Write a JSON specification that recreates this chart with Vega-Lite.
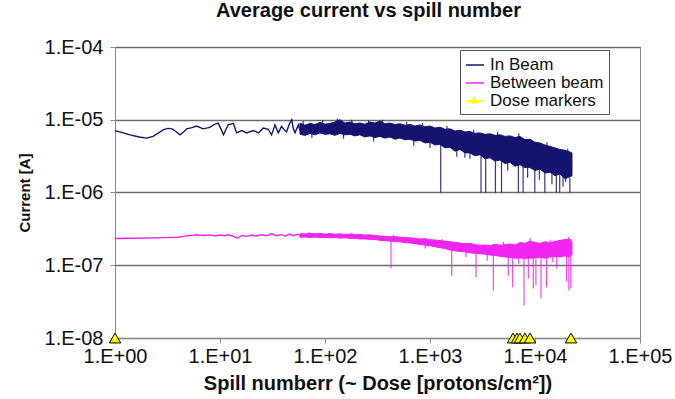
{
  "$schema": "https://vega.github.io/schema/vega-lite/v6.json",
  "width": 525,
  "height": 291,
  "autosize": "none",
  "padding": {"left": 115, "top": 47, "right": 35, "bottom": 61},
  "background": "white",
  "title": {"text": "Average current vs spill number", "font": "Liberation Sans", "fontSize": 20, "fontWeight": "bold", "color": "#111111", "offset": 16, "dx": -9},
  "config": {
    "view": {"stroke": "#8a8a8a", "strokeWidth": 1},
    "axis": {"labelFont": "Liberation Sans", "titleFont": "Liberation Sans", "labelColor": "#111111", "titleColor": "#111111", "tickColor": "#8a8a8a", "domainColor": "#8a8a8a", "tickSize": 5, "labelFontSize": 20}
  },
  "datasets": {
    "trace": [
      {"s": "In Beam", "x": 1, "y": 7.1e-6}, {"s": "In Beam", "x": 1.2, "y": 6.6e-6}, {"s": "In Beam", "x": 1.39, "y": 6.2e-6}, {"s": "In Beam", "x": 1.7, "y": 5.8e-6}, {"s": "In Beam", "x": 2.0, "y": 5.6e-6}, {"s": "In Beam", "x": 2.3, "y": 5.9e-6}, {"s": "In Beam", "x": 2.6, "y": 6.6e-6}, {"s": "In Beam", "x": 2.9, "y": 7.3e-6}, {"s": "In Beam", "x": 3.2, "y": 7.6e-6}, {"s": "In Beam", "x": 3.5, "y": 7.5e-6}, {"s": "In Beam", "x": 3.8, "y": 6.9e-6}, {"s": "In Beam", "x": 4.16, "y": 6.2e-6}, {"s": "In Beam", "x": 4.5, "y": 6.8e-6}, {"s": "In Beam", "x": 4.82, "y": 7.5e-6}, {"s": "In Beam", "x": 5.4, "y": 7.8e-6}, {"s": "In Beam", "x": 6.0, "y": 8.2e-6}, {"s": "In Beam", "x": 6.9, "y": 7.5e-6}, {"s": "In Beam", "x": 8.0, "y": 7.85e-6}, {"s": "In Beam", "x": 8.8, "y": 8.6e-6}, {"s": "In Beam", "x": 9.6, "y": 9.0e-6}, {"s": "In Beam", "x": 10.2, "y": 7.5e-6}, {"s": "In Beam", "x": 10.8, "y": 6.2e-6}, {"s": "In Beam", "x": 11.4, "y": 7.4e-6}, {"s": "In Beam", "x": 12.0, "y": 8.5e-6}, {"s": "In Beam", "x": 13.4, "y": 8.9e-6}, {"s": "In Beam", "x": 14.4, "y": 6.6e-6}, {"s": "In Beam", "x": 16.1, "y": 7.1e-6}, {"s": "In Beam", "x": 17.9, "y": 6.6e-6}, {"s": "In Beam", "x": 20.8, "y": 7.1e-6}, {"s": "In Beam", "x": 23.2, "y": 6.6e-6}, {"s": "In Beam", "x": 25.9, "y": 7.7e-6}, {"s": "In Beam", "x": 28.8, "y": 7.4e-6}, {"s": "In Beam", "x": 31, "y": 6.2e-6}, {"s": "In Beam", "x": 33.4, "y": 8.5e-6}, {"s": "In Beam", "x": 35.9, "y": 6.6e-6}, {"s": "In Beam", "x": 38.6, "y": 8.1e-6}, {"s": "In Beam", "x": 41, "y": 7.2e-6}, {"s": "In Beam", "x": 43.1, "y": 6.8e-6}, {"s": "In Beam", "x": 45.5, "y": 8.6e-6}, {"s": "In Beam", "x": 48.2, "y": 1.0e-5}, {"s": "In Beam", "x": 50, "y": 7.5e-6}, {"s": "In Beam", "x": 51.8, "y": 6.6e-6}, {"s": "In Beam", "x": 55.7, "y": 8.5e-6}, {"s": "In Beam", "x": 58, "y": 7.0e-6},
      {"s": "Between beam", "x": 1, "y": 2.33e-7}, {"s": "Between beam", "x": 1.5, "y": 2.35e-7}, {"s": "Between beam", "x": 2, "y": 2.37e-7}, {"s": "Between beam", "x": 3, "y": 2.4e-7}, {"s": "Between beam", "x": 4, "y": 2.43e-7}, {"s": "Between beam", "x": 5, "y": 2.55e-7}, {"s": "Between beam", "x": 6, "y": 2.62e-7}, {"s": "Between beam", "x": 7, "y": 2.57e-7}, {"s": "Between beam", "x": 8, "y": 2.61e-7}, {"s": "Between beam", "x": 9, "y": 2.52e-7}, {"s": "Between beam", "x": 10, "y": 2.6e-7}, {"s": "Between beam", "x": 11, "y": 2.55e-7}, {"s": "Between beam", "x": 12, "y": 2.62e-7}, {"s": "Between beam", "x": 13.5, "y": 2.5e-7}, {"s": "Between beam", "x": 14.6, "y": 2.35e-7}, {"s": "Between beam", "x": 16, "y": 2.55e-7}, {"s": "Between beam", "x": 18, "y": 2.5e-7}, {"s": "Between beam", "x": 20, "y": 2.6e-7}, {"s": "Between beam", "x": 22, "y": 2.52e-7}, {"s": "Between beam", "x": 25, "y": 2.63e-7}, {"s": "Between beam", "x": 28, "y": 2.55e-7}, {"s": "Between beam", "x": 31, "y": 2.72e-7}, {"s": "Between beam", "x": 34, "y": 2.55e-7}, {"s": "Between beam", "x": 38, "y": 2.63e-7}, {"s": "Between beam", "x": 42, "y": 2.52e-7}, {"s": "Between beam", "x": 46, "y": 2.68e-7}, {"s": "Between beam", "x": 50, "y": 2.55e-7}, {"s": "Between beam", "x": 55, "y": 2.66e-7}, {"s": "Between beam", "x": 60, "y": 2.55e-7}
    ],
    "band": [
      {"s": "In Beam", "x": 57.8, "lo": 6.3e-6, "hi": 9.0e-6}, {"s": "In Beam", "x": 64.5, "lo": 6.1e-6, "hi": 8.4e-6}, {"s": "In Beam", "x": 71.9, "lo": 6.5e-6, "hi": 8.9e-6}, {"s": "In Beam", "x": 80.3, "lo": 6.2e-6, "hi": 8.6e-6}, {"s": "In Beam", "x": 89.6, "lo": 6.6e-6, "hi": 9.2e-6}, {"s": "In Beam", "x": 100, "lo": 6.3e-6, "hi": 8.7e-6}, {"s": "In Beam", "x": 111.6, "lo": 6.4e-6, "hi": 8.9e-6}, {"s": "In Beam", "x": 124.5, "lo": 6.1e-6, "hi": 9.3e-6}, {"s": "In Beam", "x": 138.9, "lo": 6.5e-6, "hi": 1.0e-5}, {"s": "In Beam", "x": 155, "lo": 6.2e-6, "hi": 9.0e-6}, {"s": "In Beam", "x": 173, "lo": 6.3e-6, "hi": 9.3e-6}, {"s": "In Beam", "x": 193, "lo": 6.0e-6, "hi": 8.8e-6}, {"s": "In Beam", "x": 215, "lo": 6.2e-6, "hi": 9.0e-6}, {"s": "In Beam", "x": 240, "lo": 5.8e-6, "hi": 8.7e-6}, {"s": "In Beam", "x": 268, "lo": 6.0e-6, "hi": 9.3e-6}, {"s": "In Beam", "x": 299, "lo": 5.7e-6, "hi": 9.0e-6}, {"s": "In Beam", "x": 334, "lo": 5.9e-6, "hi": 9.6e-6}, {"s": "In Beam", "x": 373, "lo": 5.6e-6, "hi": 8.8e-6}, {"s": "In Beam", "x": 416, "lo": 5.8e-6, "hi": 9.0e-6}, {"s": "In Beam", "x": 464, "lo": 5.4e-6, "hi": 8.6e-6}, {"s": "In Beam", "x": 518, "lo": 5.6e-6, "hi": 8.8e-6}, {"s": "In Beam", "x": 578, "lo": 5.3e-6, "hi": 8.4e-6}, {"s": "In Beam", "x": 645, "lo": 5.4e-6, "hi": 8.6e-6}, {"s": "In Beam", "x": 720, "lo": 5.1e-6, "hi": 8.2e-6}, {"s": "In Beam", "x": 803, "lo": 5.2e-6, "hi": 8.5e-6}, {"s": "In Beam", "x": 896, "lo": 4.8e-6, "hi": 8.0e-6}, {"s": "In Beam", "x": 1000, "lo": 4.9e-6, "hi": 8.2e-6}, {"s": "In Beam", "x": 1116, "lo": 4.5e-6, "hi": 7.7e-6}, {"s": "In Beam", "x": 1245, "lo": 4.6e-6, "hi": 7.9e-6}, {"s": "In Beam", "x": 1389, "lo": 4.1e-6, "hi": 7.4e-6}, {"s": "In Beam", "x": 1550, "lo": 4.2e-6, "hi": 7.5e-6}, {"s": "In Beam", "x": 1730, "lo": 3.7e-6, "hi": 7.0e-6}, {"s": "In Beam", "x": 1931, "lo": 3.9e-6, "hi": 7.2e-6}, {"s": "In Beam", "x": 2154, "lo": 3.5e-6, "hi": 6.8e-6}, {"s": "In Beam", "x": 2404, "lo": 3.5e-6, "hi": 6.9e-6}, {"s": "In Beam", "x": 2683, "lo": 3.2e-6, "hi": 6.5e-6}, {"s": "In Beam", "x": 2994, "lo": 3.3e-6, "hi": 6.6e-6}, {"s": "In Beam", "x": 3341, "lo": 2.9e-6, "hi": 6.3e-6}, {"s": "In Beam", "x": 3728, "lo": 3.0e-6, "hi": 6.4e-6}, {"s": "In Beam", "x": 4160, "lo": 2.7e-6, "hi": 6.1e-6}, {"s": "In Beam", "x": 4642, "lo": 2.8e-6, "hi": 6.2e-6}, {"s": "In Beam", "x": 5180, "lo": 2.5e-6, "hi": 5.9e-6}, {"s": "In Beam", "x": 5780, "lo": 2.6e-6, "hi": 6.0e-6}, {"s": "In Beam", "x": 6450, "lo": 2.3e-6, "hi": 5.7e-6}, {"s": "In Beam", "x": 7197, "lo": 2.4e-6, "hi": 5.9e-6}, {"s": "In Beam", "x": 8031, "lo": 2.2e-6, "hi": 5.3e-6}, {"s": "In Beam", "x": 8962, "lo": 2.2e-6, "hi": 5.4e-6}, {"s": "In Beam", "x": 10000, "lo": 2.0e-6, "hi": 4.9e-6}, {"s": "In Beam", "x": 11160, "lo": 2.1e-6, "hi": 4.8e-6}, {"s": "In Beam", "x": 12450, "lo": 1.85e-6, "hi": 4.5e-6}, {"s": "In Beam", "x": 13890, "lo": 1.9e-6, "hi": 4.3e-6}, {"s": "In Beam", "x": 15500, "lo": 1.7e-6, "hi": 4.1e-6}, {"s": "In Beam", "x": 17300, "lo": 1.8e-6, "hi": 3.9e-6}, {"s": "In Beam", "x": 19310, "lo": 1.55e-6, "hi": 3.8e-6}, {"s": "In Beam", "x": 21540, "lo": 1.65e-6, "hi": 3.6e-6}, {"s": "In Beam", "x": 22500, "lo": 1.7e-6, "hi": 3.5e-6},
      {"s": "Between beam", "x": 57.8, "lo": 2.42e-7, "hi": 2.72e-7}, {"s": "Between beam", "x": 64.5, "lo": 2.45e-7, "hi": 2.68e-7}, {"s": "Between beam", "x": 71.9, "lo": 2.40e-7, "hi": 2.75e-7}, {"s": "Between beam", "x": 80.3, "lo": 2.44e-7, "hi": 2.70e-7}, {"s": "Between beam", "x": 89.6, "lo": 2.40e-7, "hi": 2.74e-7}, {"s": "Between beam", "x": 100, "lo": 2.42e-7, "hi": 2.68e-7}, {"s": "Between beam", "x": 111.6, "lo": 2.38e-7, "hi": 2.72e-7}, {"s": "Between beam", "x": 124.5, "lo": 2.40e-7, "hi": 2.66e-7}, {"s": "Between beam", "x": 138.9, "lo": 2.36e-7, "hi": 2.70e-7}, {"s": "Between beam", "x": 155, "lo": 2.38e-7, "hi": 2.65e-7}, {"s": "Between beam", "x": 173, "lo": 2.34e-7, "hi": 2.68e-7}, {"s": "Between beam", "x": 193, "lo": 2.35e-7, "hi": 2.63e-7}, {"s": "Between beam", "x": 215, "lo": 2.30e-7, "hi": 2.65e-7}, {"s": "Between beam", "x": 240, "lo": 2.30e-7, "hi": 2.60e-7}, {"s": "Between beam", "x": 268, "lo": 2.27e-7, "hi": 2.62e-7}, {"s": "Between beam", "x": 299, "lo": 2.26e-7, "hi": 2.56e-7}, {"s": "Between beam", "x": 334, "lo": 2.20e-7, "hi": 2.52e-7}, {"s": "Between beam", "x": 373, "lo": 2.18e-7, "hi": 2.50e-7}, {"s": "Between beam", "x": 416, "lo": 2.15e-7, "hi": 2.46e-7}, {"s": "Between beam", "x": 464, "lo": 2.12e-7, "hi": 2.48e-7}, {"s": "Between beam", "x": 518, "lo": 2.10e-7, "hi": 2.42e-7}, {"s": "Between beam", "x": 578, "lo": 2.05e-7, "hi": 2.40e-7}, {"s": "Between beam", "x": 645, "lo": 2.02e-7, "hi": 2.38e-7}, {"s": "Between beam", "x": 720, "lo": 1.98e-7, "hi": 2.34e-7}, {"s": "Between beam", "x": 803, "lo": 1.92e-7, "hi": 2.30e-7}, {"s": "Between beam", "x": 896, "lo": 1.90e-7, "hi": 2.32e-7}, {"s": "Between beam", "x": 1000, "lo": 1.85e-7, "hi": 2.25e-7}, {"s": "Between beam", "x": 1116, "lo": 1.80e-7, "hi": 2.22e-7}, {"s": "Between beam", "x": 1245, "lo": 1.74e-7, "hi": 2.18e-7}, {"s": "Between beam", "x": 1389, "lo": 1.70e-7, "hi": 2.15e-7}, {"s": "Between beam", "x": 1550, "lo": 1.62e-7, "hi": 2.10e-7}, {"s": "Between beam", "x": 1730, "lo": 1.58e-7, "hi": 2.06e-7}, {"s": "Between beam", "x": 1931, "lo": 1.55e-7, "hi": 2.02e-7}, {"s": "Between beam", "x": 2154, "lo": 1.52e-7, "hi": 1.98e-7}, {"s": "Between beam", "x": 2404, "lo": 1.48e-7, "hi": 2.00e-7}, {"s": "Between beam", "x": 2683, "lo": 1.46e-7, "hi": 1.92e-7}, {"s": "Between beam", "x": 2994, "lo": 1.44e-7, "hi": 1.88e-7}, {"s": "Between beam", "x": 3341, "lo": 1.42e-7, "hi": 1.90e-7}, {"s": "Between beam", "x": 3728, "lo": 1.38e-7, "hi": 1.86e-7}, {"s": "Between beam", "x": 4160, "lo": 1.36e-7, "hi": 1.95e-7}, {"s": "Between beam", "x": 4642, "lo": 1.33e-7, "hi": 1.88e-7}, {"s": "Between beam", "x": 5180, "lo": 1.30e-7, "hi": 1.92e-7}, {"s": "Between beam", "x": 5780, "lo": 1.28e-7, "hi": 1.96e-7}, {"s": "Between beam", "x": 6450, "lo": 1.25e-7, "hi": 1.90e-7}, {"s": "Between beam", "x": 7197, "lo": 1.26e-7, "hi": 2.05e-7}, {"s": "Between beam", "x": 8031, "lo": 1.24e-7, "hi": 2.00e-7}, {"s": "Between beam", "x": 8962, "lo": 1.25e-7, "hi": 2.15e-7}, {"s": "Between beam", "x": 10000, "lo": 1.26e-7, "hi": 2.05e-7}, {"s": "Between beam", "x": 11160, "lo": 1.28e-7, "hi": 2.00e-7}, {"s": "Between beam", "x": 12450, "lo": 1.25e-7, "hi": 2.10e-7}, {"s": "Between beam", "x": 13890, "lo": 1.30e-7, "hi": 2.05e-7}, {"s": "Between beam", "x": 15500, "lo": 1.32e-7, "hi": 2.12e-7}, {"s": "Between beam", "x": 17300, "lo": 1.30e-7, "hi": 2.20e-7}, {"s": "Between beam", "x": 19310, "lo": 1.35e-7, "hi": 2.25e-7}, {"s": "Between beam", "x": 21540, "lo": 1.30e-7, "hi": 2.30e-7}, {"s": "Between beam", "x": 22500, "lo": 1.40e-7, "hi": 2.10e-7}
    ],
    "drops": [
      {"s": "In Beam", "x": 1265, "top": 4.5e-6, "bottom": 1.0e-6}, {"s": "In Beam", "x": 2150, "top": 3.6e-6, "bottom": 3.0e-6}, {"s": "In Beam", "x": 2400, "top": 3.5e-6, "bottom": 2.9e-6}, {"s": "In Beam", "x": 3060, "top": 3.2e-6, "bottom": 1.0e-6}, {"s": "In Beam", "x": 3390, "top": 3.0e-6, "bottom": 1.0e-6}, {"s": "In Beam", "x": 4200, "top": 2.7e-6, "bottom": 1.0e-6}, {"s": "In Beam", "x": 4800, "top": 2.8e-6, "bottom": 1.0e-6}, {"s": "In Beam", "x": 6950, "top": 2.4e-6, "bottom": 1.0e-6}, {"s": "In Beam", "x": 7700, "top": 2.3e-6, "bottom": 1.0e-6}, {"s": "In Beam", "x": 9960, "top": 2.0e-6, "bottom": 1.0e-6}, {"s": "In Beam", "x": 12400, "top": 1.9e-6, "bottom": 1.0e-6}, {"s": "In Beam", "x": 14500, "top": 1.8e-6, "bottom": 1.3e-6}, {"s": "In Beam", "x": 15970, "top": 1.7e-6, "bottom": 1.0e-6}, {"s": "In Beam", "x": 17200, "top": 1.8e-6, "bottom": 1.0e-6}, {"s": "In Beam", "x": 19600, "top": 1.6e-6, "bottom": 1.4e-6}, {"s": "In Beam", "x": 21500, "top": 1.6e-6, "bottom": 1.0e-6},
      {"s": "In Beam", "x": 62, "top": 9.6e-6, "bottom": 8.5e-6}, {"s": "In Beam", "x": 95, "top": 9.9e-6, "bottom": 8.9e-6}, {"s": "In Beam", "x": 131, "top": 1.04e-5, "bottom": 9.3e-6}, {"s": "In Beam", "x": 180, "top": 1.0e-5, "bottom": 9.0e-6}, {"s": "In Beam", "x": 260, "top": 9.8e-6, "bottom": 9.0e-6}, {"s": "In Beam", "x": 350, "top": 1.0e-5, "bottom": 9.2e-6}, {"s": "In Beam", "x": 600, "top": 9.3e-6, "bottom": 8.5e-6}, {"s": "In Beam", "x": 850, "top": 9.0e-6, "bottom": 8.2e-6}, {"s": "In Beam", "x": 1450, "top": 8.2e-6, "bottom": 7.4e-6}, {"s": "In Beam", "x": 2600, "top": 7.3e-6, "bottom": 6.6e-6}, {"s": "In Beam", "x": 4400, "top": 6.8e-6, "bottom": 6.1e-6}, {"s": "In Beam", "x": 7000, "top": 6.5e-6, "bottom": 5.8e-6}, {"s": "In Beam", "x": 13000, "top": 4.9e-6, "bottom": 4.4e-6}, {"s": "In Beam", "x": 20500, "top": 4.0e-6, "bottom": 3.7e-6},
      {"s": "In Beam", "x": 75, "top": 6.4e-6, "bottom": 5.6e-6}, {"s": "In Beam", "x": 150, "top": 6.3e-6, "bottom": 5.5e-6}, {"s": "In Beam", "x": 290, "top": 5.8e-6, "bottom": 5.0e-6}, {"s": "In Beam", "x": 700, "top": 5.2e-6, "bottom": 4.4e-6}, {"s": "In Beam", "x": 1000, "top": 4.9e-6, "bottom": 4.1e-6}, {"s": "In Beam", "x": 1800, "top": 3.8e-6, "bottom": 3.1e-6}, {"s": "In Beam", "x": 5500, "top": 2.6e-6, "bottom": 2.0e-6}, {"s": "In Beam", "x": 8500, "top": 2.2e-6, "bottom": 1.6e-6}, {"s": "In Beam", "x": 11000, "top": 2.1e-6, "bottom": 1.5e-6}, {"s": "In Beam", "x": 18500, "top": 1.7e-6, "bottom": 1.2e-6},
      {"s": "Between beam", "x": 425, "top": 2.15e-7, "bottom": 9.1e-8}, {"s": "Between beam", "x": 1610, "top": 1.6e-7, "bottom": 7.2e-8}, {"s": "Between beam", "x": 2740, "top": 1.5e-7, "bottom": 6.9e-8}, {"s": "Between beam", "x": 4010, "top": 1.35e-7, "bottom": 4.5e-8}, {"s": "Between beam", "x": 5570, "top": 1.3e-7, "bottom": 7.2e-8}, {"s": "Between beam", "x": 6130, "top": 1.3e-7, "bottom": 5.0e-8}, {"s": "Between beam", "x": 7860, "top": 1.25e-7, "bottom": 2.8e-8}, {"s": "Between beam", "x": 8640, "top": 1.25e-7, "bottom": 6.5e-8}, {"s": "Between beam", "x": 9640, "top": 1.25e-7, "bottom": 4.8e-8}, {"s": "Between beam", "x": 10200, "top": 1.25e-7, "bottom": 5.3e-8}, {"s": "Between beam", "x": 11400, "top": 1.25e-7, "bottom": 3.5e-8}, {"s": "Between beam", "x": 12900, "top": 1.25e-7, "bottom": 5.0e-8}, {"s": "Between beam", "x": 16100, "top": 1.3e-7, "bottom": 9.0e-8}, {"s": "Between beam", "x": 20000, "top": 1.35e-7, "bottom": 6.0e-8}, {"s": "Between beam", "x": 21000, "top": 1.3e-7, "bottom": 4.5e-8}, {"s": "Between beam", "x": 21900, "top": 1.3e-7, "bottom": 4.8e-8},
      {"s": "Between beam", "x": 70, "top": 2.85e-7, "bottom": 2.7e-7}, {"s": "Between beam", "x": 180, "top": 2.8e-7, "bottom": 2.65e-7}, {"s": "Between beam", "x": 450, "top": 2.6e-7, "bottom": 2.45e-7}, {"s": "Between beam", "x": 1300, "top": 2.3e-7, "bottom": 2.15e-7}, {"s": "Between beam", "x": 5000, "top": 2.1e-7, "bottom": 1.9e-7}, {"s": "Between beam", "x": 9000, "top": 2.35e-7, "bottom": 2.1e-7}, {"s": "Between beam", "x": 14000, "top": 2.25e-7, "bottom": 2.05e-7}, {"s": "Between beam", "x": 21000, "top": 2.45e-7, "bottom": 2.3e-7},
      {"s": "Between beam", "x": 900, "top": 1.9e-7, "bottom": 1.7e-7}, {"s": "Between beam", "x": 2200, "top": 1.5e-7, "bottom": 1.3e-7}, {"s": "Between beam", "x": 3500, "top": 1.4e-7, "bottom": 1.15e-7}, {"s": "Between beam", "x": 7000, "top": 1.26e-7, "bottom": 1.05e-7}, {"s": "Between beam", "x": 14800, "top": 1.3e-7, "bottom": 1.1e-7}
    ],
    "dose": [
      {"s": "Dose markers", "x": 1, "y": 1e-8}, {"s": "Dose markers", "x": 6170, "y": 1e-8}, {"s": "Dose markers", "x": 6730, "y": 1e-8}, {"s": "Dose markers", "x": 7190, "y": 1e-8}, {"s": "Dose markers", "x": 8030, "y": 1e-8}, {"s": "Dose markers", "x": 8960, "y": 1e-8}, {"s": "Dose markers", "x": 22000, "y": 1e-8}
    ]
  },
  "layer": [
    {
      "data": {"name": "band"},
      "mark": {"type": "area", "opacity": 1, "strokeWidth": 1},
      "encoding": {
        "x": {"field": "x", "type": "quantitative", "scale": {"type": "log", "domain": [1, 100000]},
          "axis": {"values": [1, 10, 100, 1000, 10000, 100000], "labelExpr": "'1.E+0' + round(log(datum.value)/LN10)", "title": "Spill numberr (~ Dose [protons/cm²])", "titleFontSize": 20, "titleFontWeight": "bold", "grid": false, "labelFlush": false, "labelOverlap": false, "labelPadding": 3, "titlePadding": 7}},
        "y": {"field": "lo", "type": "quantitative", "scale": {"type": "log", "domain": [1e-8, 1e-4]},
          "axis": {"values": [1e-8, 1e-7, 1e-6, 1e-5, 1e-4], "labelExpr": "'1.E-0' + round(-log(datum.value)/LN10)", "title": "Current [A]", "titleFontSize": 15, "titleFontWeight": "bold", "grid": true, "gridColor": "#6e6e6e", "gridWidth": 1.3, "gridOpacity": 1, "labelOverlap": false, "labelPadding": 7, "titlePadding": 12}},
        "y2": {"field": "hi"},
        "stroke": {"field": "s", "type": "nominal", "scale": {"domain": ["In Beam", "Between beam", "Dose markers"], "range": ["#141470", "#f224f2", "#ffff00"]}, "legend": null},
        "color": {"field": "s", "type": "nominal",
          "scale": {"domain": ["In Beam", "Between beam", "Dose markers"], "range": ["#141470", "#f224f2", "#ffff00"]},
          "legend": {"orient": "none", "legendX": 345, "legendY": 3, "title": null, "strokeColor": "#555555", "fillColor": "white", "padding": 5, "labelFont": "Liberation Sans", "labelFontSize": 17, "labelColor": "#111111", "symbolSize": 324, "symbolType": "stroke", "symbolStrokeWidth": 1.5, "rowPadding": 0, "labelOffset": 5}
        }
      }
    },
    {
      "data": {"name": "trace"},
      "mark": {"type": "line", "strokeWidth": 1.4},
      "encoding": {
        "x": {"field": "x", "type": "quantitative"},
        "y": {"field": "y", "type": "quantitative"},
        "color": {"field": "s", "type": "nominal"}
      }
    },
    {
      "data": {"name": "drops"},
      "mark": {"type": "rule", "strokeWidth": 1.2, "opacity": 0.85},
      "encoding": {
        "x": {"field": "x", "type": "quantitative"},
        "y": {"field": "top", "type": "quantitative"},
        "y2": {"field": "bottom"},
        "color": {"field": "s", "type": "nominal"}
      }
    },
    {
      "data": {"name": "dose"},
      "mark": {"type": "point", "shape": "triangle-up", "filled": true, "fill": "#ffff00", "stroke": "#000000", "strokeWidth": 1, "size": 130, "opacity": 1},
      "encoding": {
        "x": {"field": "x", "type": "quantitative"},
        "y": {"field": "y", "type": "quantitative"},
        "shape": {"field": "s", "type": "nominal", "scale": {"domain": ["Dose markers"], "range": ["triangle-up"]},
          "legend": {"orient": "none", "legendX": 354, "legendY": 48, "title": null, "padding": 0, "labelFontSize": 9, "labelExpr": "''", "labelOpacity": 0, "symbolSize": 70, "symbolFillColor": "#ffff00", "symbolStrokeColor": "#000000", "symbolStrokeWidth": 1, "symbolOpacity": 1, "rowPadding": 0}}
      }
    }
  ]
}
